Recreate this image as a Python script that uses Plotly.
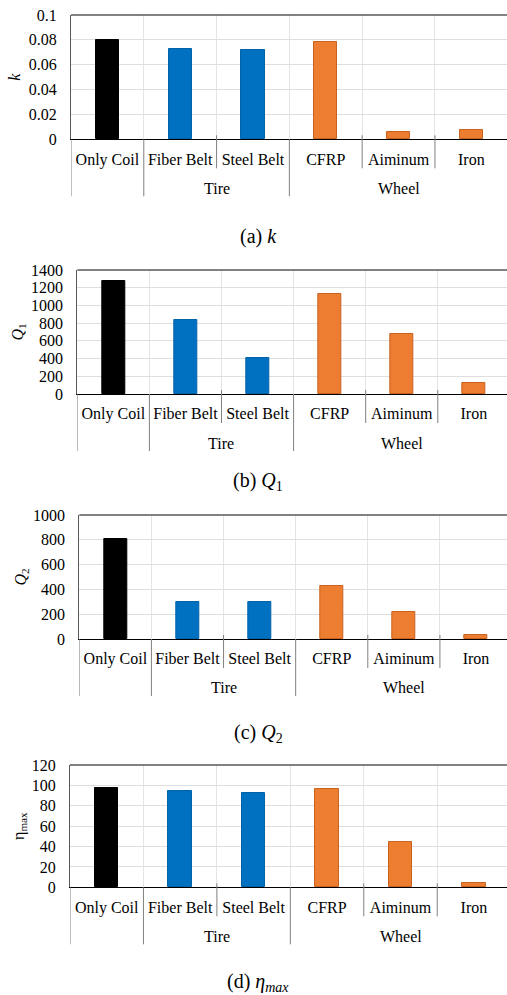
import plotly.graph_objects as go

categories = ["Only Coil", "Fiber Belt", "Steel Belt", "CFRP", "Aiminum", "Iron"]
group_names = ["Tire", "Wheel"]
group_centers = [1.5, 4.0]          # category-index centre of each group
long_dividers = [-0.5, 0.5, 2.5]    # group boundaries
short_dividers = [1.5, 3.5, 4.5]    # boundaries inside a group
k_values = [0.080, 0.0726, 0.0718, 0.0782, 0.0056, 0.0077]
q1_values = [1276, 832, 403, 1129, 674, 121]
q2_values = [804, 296, 296, 425, 215, 30]
eta_values = [97.5, 94.8, 93.0, 96.8, 44.2, 4.0]

bar_colors = ["#000000", "#0070C0", "#0070C0", "#ED7D31", "#ED7D31", "#ED7D31"]
edge_colors = ["#000000", "#0062A8", "#0062A8", "#C8621F", "#C8621F", "#C8621F"]

FONT = "Liberation Serif"
W, H = 507, 995

panels = [
    dict(vals=k_values, ymax=0.1, dtick=0.02, title="<i>k</i>", caption="(a) <i>k</i>",
         top=15, bottom=139.3, left=71, xr=5.49, cap_y=236, standoff=4),
    dict(vals=q1_values, ymax=1400, dtick=200, title="<i>Q</i><sub>1</sub>", caption="(b) <i>Q</i><sub>1</sub>",
         top=270, bottom=394, left=77.3, xr=5.46, cap_y=481, standoff=3),
    dict(vals=q2_values, ymax=1000, dtick=200, title="<i>Q</i><sub>2</sub>", caption="(c) <i>Q</i><sub>2</sub>",
         top=515, bottom=639, left=79.3, xr=5.43, cap_y=733, standoff=2),
    dict(vals=eta_values, ymax=120, dtick=20, title="η<sub>max</sub>", caption="(d) <i>η<sub>max</sub></i>",
         top=765, bottom=887.3, left=70, xr=5.45, cap_y=982, standoff=3),
]

fig = go.Figure()
shapes = []
annotations = []
for i, p in enumerate(panels):
    n = "" if i == 0 else str(i + 1)
    xa, ya = "x" + n, "y" + n
    fig.add_trace(go.Bar(
        x=categories, y=p["vals"], xaxis=xa, yaxis=ya,
        width=0.32,
        marker=dict(color=bar_colors, line=dict(color=edge_colors, width=1)),
        showlegend=False, hoverinfo="skip",
    ))
    ph = p["bottom"] - p["top"]
    y0 = 1 - p["bottom"] / H
    y1 = 1 - p["top"] / H
    fig.layout["xaxis" + n] = dict(
        type="category", domain=[p["left"] / W, 1], anchor=ya,
        range=[-0.5, p["xr"]], showgrid=True, gridcolor="#e4e4e4", gridwidth=1,
        tickson="boundaries", ticks="", showline=True, linecolor="#000000", linewidth=1.3,
        mirror=False, tickangle=0, automargin=False, ticklabelstandoff=5,
        tickfont=dict(family=FONT, size=16, color="#000000"),
    )
    fig.layout["yaxis" + n] = dict(
        domain=[y0, y1], anchor=xa, range=[0, p["ymax"]], dtick=p["dtick"],
        showgrid=True, gridcolor="#dedede", gridwidth=1, zeroline=False,
        showline=True, linecolor="#595959", linewidth=1.3, mirror=False, ticks="",
        automargin=False, ticklabelstandoff=10,
        tickfont=dict(family=FONT, size=16, color="#000000"),
        title=dict(text=p["title"], font=dict(family=FONT, size=16, color="#000000"),
                   standoff=p["standoff"]),
    )
    # top border of the plot area
    shapes.append(dict(type="line", xref=xa + " domain", yref=ya + " domain",
                       x0=0, x1=1, y0=1, y1=1, line=dict(color="#595959", width=1.3)))
    # category separators below the axis
    for xb in long_dividers:
        shapes.append(dict(type="line", xref=xa, yref=ya + " domain",
                           x0=xb, x1=xb, y0=0.0, y1=-57 / ph,
                           line=dict(color="#808080", width=1)))
    for xb in short_dividers:
        shapes.append(dict(type="line", xref=xa, yref=ya + " domain",
                           x0=xb, x1=xb, y0=4 / ph, y1=-29 / ph,
                           line=dict(color="#808080", width=1)))
    for gname, gx in zip(group_names, group_centers):
        annotations.append(dict(text=gname, xref=xa, yref=ya + " domain",
                                x=gx, y=-49 / ph, showarrow=False,
                                xanchor="center", yanchor="middle",
                                font=dict(family=FONT, size=16, color="#000000")))
    annotations.append(dict(text=p["caption"], xref="paper", yref="paper",
                            x=258 / W, y=1 - p["cap_y"] / H, showarrow=False,
                            xanchor="center", yanchor="middle",
                            font=dict(family=FONT, size=20, color="#000000")))

fig.update_layout(
    width=W, height=H, margin=dict(l=0, r=0, t=0, b=0, autoexpand=False),
    paper_bgcolor="white", plot_bgcolor="white",
    shapes=shapes, annotations=annotations, bargap=0,
)
fig.write_html("out.html", config={"displayModeBar": False},
               post_script="document.body.style.margin='0';")
